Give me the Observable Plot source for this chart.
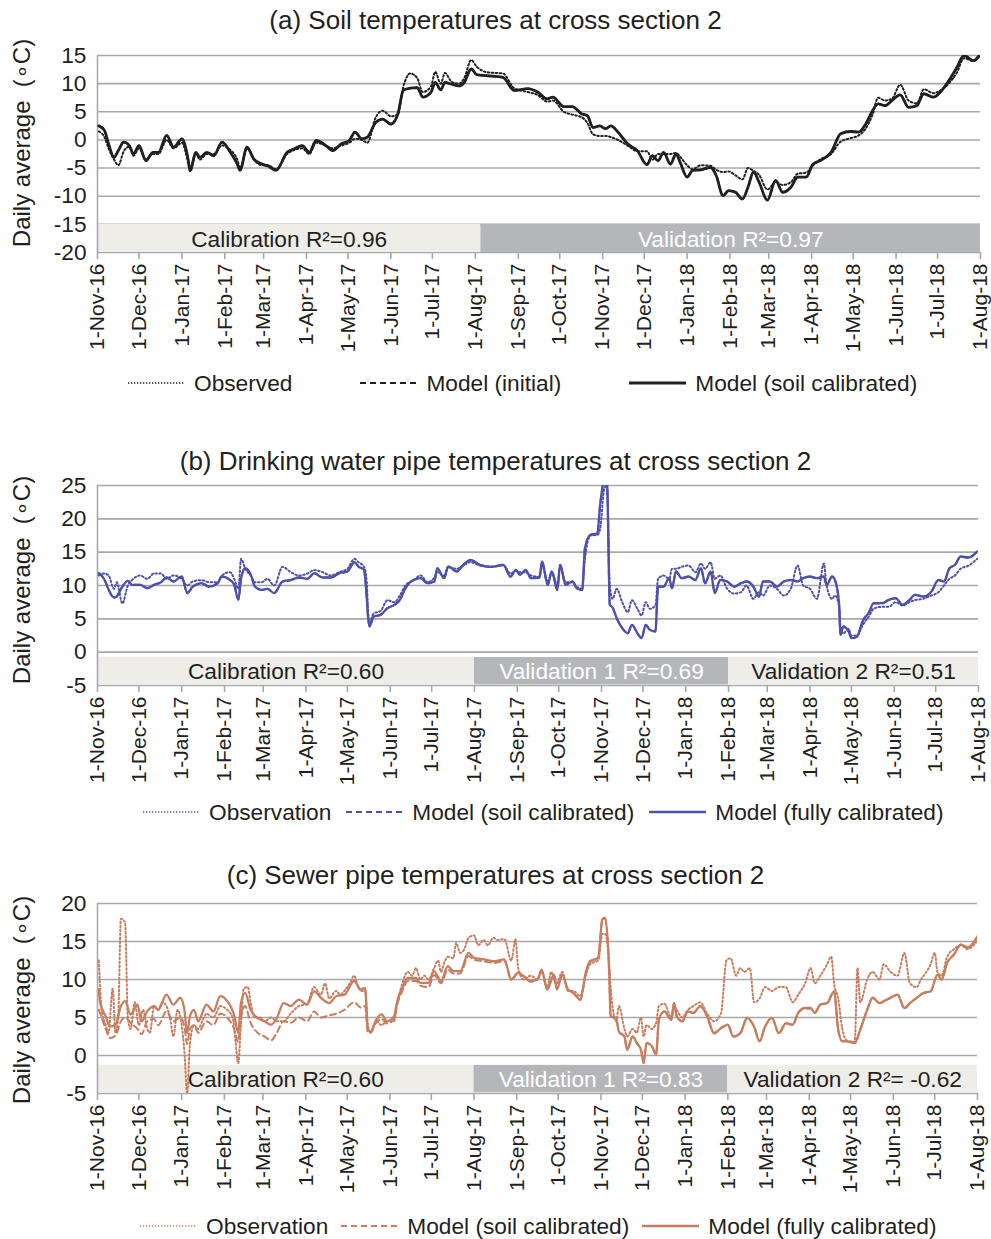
<!DOCTYPE html>
<html><head><meta charset="utf-8">
<script src="https://cdn.jsdelivr.net/npm/d3@7"></script>
<script src="https://cdn.jsdelivr.net/npm/@observablehq/plot@0.6"></script>
<style>
body{margin:0;background:#fff;font-family:"Liberation Sans",Arial,sans-serif;color:#231f20;}
#root{position:relative;width:991px;height:1239px;overflow:hidden;}
.title{position:absolute;left:0;width:991px;text-align:center;font-size:26px;line-height:30px;}
.ylab{position:absolute;width:300px;height:30px;line-height:30px;text-align:center;font-size:24px;white-space:pre;transform:rotate(-90deg);}
.legend{position:absolute;display:flex;align-items:center;font-size:22.7px;white-space:pre;height:30px;}
.legend .item{display:flex;align-items:center;}
.legend svg{margin-right:9px;}
.panel{position:absolute;left:0;}
</style></head><body><div id="root"></div>
<script>
// ---------- shared axis data ----------
const monthTicks = ["2016-11-01","2016-12-01","2017-01-01","2017-02-01","2017-03-01","2017-04-01","2017-05-01","2017-06-01","2017-07-01","2017-08-01","2017-09-01","2017-10-01","2017-11-01","2017-12-01","2018-01-01","2018-02-01","2018-03-01","2018-04-01","2018-05-01","2018-06-01","2018-07-01","2018-08-01"];
const startDate = "2016-11-01";
const endDate = "2018-08-01";

// ---------- panel (a): soil temperatures, [day since 1-Nov-16, °C] ----------
const aTitle = "(a) Soil temperatures at cross section 2";
const aYTicks = [-20,-15,-10,-5,0,5,10,15];
const aObserved = [[1,1.5],[5,0.5],[8,-1.5],[12,-3.5],[15,-4.5],[19,-2.0],[23,-1.2],[26,-2.8],[30,-1.5],[35,-3.5],[40,-2.5],[44,-2.5],[50,0.0],[55,-1.5],[61,-0.5],[65,-3.5],[67,-5.6],[71,-2.5],[74,-3.5],[79,-2.5],[84,-2.5],[90,-1.0],[96,-1.8],[101,-3.5],[103,-5.0],[108,-1.5],[113,-3.5],[119,-4.5],[123,-4.5],[129,-5.2],[137,-2.5],[142,-1.8],[148,-1.5],[153,-2.5],[158,-0.5],[165,-1.0],[170,-1.5],[176,-1.0],[182,-0.5],[186,0.2],[191,0.0],[195,-0.5],[201,4.0],[206,5.2],[212,4.2],[217,4.5],[221,9.5],[226,11.8],[231,11.0],[235,8.5],[241,9.5],[244,12.1],[248,10.0],[251,11.9],[256,10.3],[261,10.0],[265,11.0],[270,14.2],[274,13.0],[282,12.0],[293,11.8],[301,9.2],[311,8.5],[318,8.0],[325,6.8],[329,7.0],[337,5.0],[343,4.5],[350,4.0],[354,3.0],[358,1.0],[363,0.7],[367,0.7],[371,0.5],[376,0.0],[383,-1.0],[390,-2.0],[397,-2.0],[401,-3.5],[405,-2.5],[409,-2.5],[414,-2.5],[418,-2.3],[421,-3.0],[426,-4.5],[430,-5.2],[436,-4.5],[443,-4.6],[447,-5.3],[452,-5.7],[456,-5.6],[461,-6.3],[466,-7.0],[470,-5.0],[474,-5.5],[478,-6.2],[484,-8.8],[490,-7.5],[495,-8.0],[501,-7.5],[506,-6.0],[512,-5.8],[517,-4.5],[522,-3.5],[530,-2.5],[537,-0.3],[544,0.3],[550,0.8],[555,2.0],[560,4.5],[564,7.5],[569,7.0],[574,7.3],[580,9.8],[586,7.0],[592,6.5],[597,9.0],[604,8.3],[609,8.8],[615,10.0],[621,12.0],[626,14.5],[633,14.0],[637,14.8]];
const aModelInitial = [[1,2.5],[5,1.7],[8,-0.7],[12,-3.1],[15,-1.9],[19,-0.4],[23,-1.0],[26,-2.5],[30,-1.0],[35,-3.7],[40,-2.2],[44,-2.2],[50,0.8],[55,-1.3],[61,0.2],[65,-2.8],[67,-5.4],[71,-2.2],[74,-3.1],[79,-2.2],[84,-2.8],[90,-0.4],[96,-2.2],[101,-4.3],[103,-5.4],[108,-1.3],[113,-3.4],[119,-4.3],[123,-4.6],[129,-5.4],[137,-2.2],[142,-1.6],[148,-1.0],[153,-2.2],[158,-0.1],[165,-1.0],[170,-1.9],[176,-0.7],[182,-0.1],[186,1.4],[191,0.2],[195,0.5],[201,3.1],[206,3.7],[212,2.8],[217,4.6],[221,8.8],[226,9.2],[231,9.3],[235,7.6],[241,8.5],[244,10.2],[248,8.9],[251,10.2],[256,9.9],[261,9.6],[265,10.2],[270,12.6],[274,11.6],[282,11.4],[293,11.1],[301,8.8],[311,9.1],[318,8.5],[325,7.3],[329,7.6],[337,5.9],[343,5.9],[350,4.6],[354,4.3],[358,2.2],[363,2.5],[367,2.0],[371,2.5],[376,1.4],[383,-0.7],[390,-1.9],[397,-4.4],[401,-2.8],[405,-3.7],[409,-2.2],[414,-4.3],[418,-2.5],[421,-4.0],[426,-6.6],[430,-5.4],[436,-5.3],[443,-4.9],[447,-6.3],[452,-9.9],[456,-9.0],[461,-9.3],[466,-10.5],[470,-8.4],[474,-5.7],[478,-7.5],[484,-10.7],[490,-7.2],[495,-9.3],[501,-8.4],[506,-6.6],[512,-6.6],[517,-4.3],[522,-3.7],[530,-2.2],[537,1.1],[544,1.5],[550,1.4],[555,2.8],[560,5.2],[564,6.4],[569,6.1],[574,7.0],[580,8.0],[586,5.8],[592,6.1],[597,8.2],[604,7.6],[609,8.5],[615,10.5],[621,12.9],[626,15.0],[633,14.1],[637,15.0]];
const aModelSoil = [[1,2.5],[5,1.7],[8,-0.7],[12,-3.1],[15,-1.9],[19,-0.4],[23,-1.0],[26,-2.5],[30,-1.0],[35,-3.7],[40,-2.2],[44,-2.2],[50,0.8],[55,-1.3],[61,0.2],[65,-2.8],[67,-5.4],[71,-2.2],[74,-3.1],[79,-2.2],[84,-2.8],[90,-0.4],[96,-2.2],[101,-4.3],[103,-5.4],[108,-1.3],[113,-3.4],[119,-4.3],[123,-4.6],[129,-5.4],[137,-2.2],[142,-1.6],[148,-1.0],[153,-2.2],[158,-0.1],[165,-1.0],[170,-1.9],[176,-0.7],[182,-0.1],[186,1.4],[191,0.2],[195,0.5],[201,3.1],[206,3.7],[212,2.8],[217,4.6],[221,8.8],[226,9.2],[231,9.3],[235,7.6],[241,8.5],[244,10.2],[248,8.9],[251,10.2],[256,9.9],[261,9.6],[265,10.2],[270,12.6],[274,11.6],[282,11.4],[293,11.1],[301,8.8],[311,9.1],[318,8.5],[325,7.3],[329,7.6],[337,5.9],[343,5.9],[350,4.6],[354,4.3],[358,2.2],[363,2.5],[367,2.0],[371,2.5],[376,1.4],[383,-0.7],[390,-1.9],[397,-4.4],[401,-2.8],[405,-3.7],[409,-2.2],[414,-4.3],[418,-2.5],[421,-4.0],[426,-6.6],[430,-5.4],[436,-5.3],[443,-4.9],[447,-6.3],[452,-9.9],[456,-9.0],[461,-9.3],[466,-10.5],[470,-8.4],[474,-5.7],[478,-7.5],[484,-10.7],[490,-7.2],[495,-9.3],[501,-8.4],[506,-6.6],[512,-6.6],[517,-4.3],[522,-3.7],[530,-2.2],[537,1.1],[544,1.5],[550,1.4],[555,2.8],[560,5.2],[564,6.4],[569,6.1],[574,7.0],[580,8.0],[586,5.8],[592,6.1],[597,8.2],[604,7.6],[609,8.5],[615,10.5],[621,12.9],[626,15.0],[633,14.1],[637,15.0]];
const aBandLabels = ["Calibration R²=0.96","Validation R²=0.97"];
const aBandDates = ["2016-11-01","2017-08-05","2018-08-01"];
const aLegendLabels = ["Observed","Model (initial)","Model (soil calibrated)"];

// ---------- panel (b): drinking water pipe ----------
const bTitle = "(b) Drinking water pipe temperatures at cross section 2";
const bYTicks = [-5,0,5,10,15,20,25];
const bObservation = [[1,11.5],[5,11.8],[8,11.5],[12,9.5],[14,10.5],[18,7.3],[22,10.0],[25,10.8],[31,11.5],[36,11.0],[41,11.8],[46,11.8],[50,11.0],[55,11.5],[61,11.0],[65,10.0],[69,10.6],[75,10.8],[81,10.5],[87,10.5],[90,11.5],[96,12.0],[99,11.0],[102,9.5],[104,14.0],[107,12.5],[111,11.5],[114,10.5],[119,10.5],[123,11.0],[128,10.0],[134,12.8],[140,12.0],[146,11.5],[152,11.8],[157,12.3],[163,12.0],[169,11.5],[175,12.0],[181,12.5],[186,14.0],[189,13.5],[193,12.8],[195,10.5],[196,6.0],[197,4.5],[200,5.8],[205,6.2],[210,7.8],[215,7.5],[219,8.5],[223,10.0],[229,10.8],[234,11.5],[239,10.5],[244,11.2],[246,12.0],[251,11.5],[254,12.8],[260,12.5],[265,13.0],[270,13.5],[277,13.0],[285,12.8],[294,13.0],[299,11.8],[303,12.2],[306,12.0],[310,12.0],[314,11.5],[320,11.3],[322,13.0],[326,10.5],[329,12.0],[333,10.0],[335,13.0],[339,10.5],[344,10.5],[347,9.8],[351,9.5],[353,14.0],[357,17.5],[362,17.6],[364,18.5],[367,24.5],[369,25.1],[371,10.0],[373,8.0],[376,9.5],[380,7.5],[384,6.0],[387,7.8],[391,6.5],[394,5.5],[397,7.5],[400,6.5],[404,7.0],[406,11.0],[410,11.5],[414,11.0],[416,12.5],[419,12.5],[423,12.8],[428,13.0],[433,12.0],[437,13.3],[440,12.5],[444,13.5],[447,11.0],[451,11.5],[456,9.5],[461,8.8],[466,9.0],[470,10.0],[475,8.0],[479,9.0],[482,8.5],[487,10.0],[492,9.5],[497,8.5],[502,9.5],[507,13.0],[511,10.0],[516,9.5],[521,8.0],[526,13.3],[528,10.0],[532,8.0],[534,8.5],[537,7.0],[538,4.0],[540,2.8],[544,3.5],[546,2.5],[550,2.5],[554,4.0],[559,5.5],[562,6.5],[568,6.8],[573,6.8],[578,7.5],[583,7.0],[588,7.5],[592,7.8],[598,8.0],[604,8.5],[609,9.0],[613,10.0],[617,11.0],[621,11.5],[625,12.5],[631,13.0],[637,14.0]];
const bModelSoil = [[1,11.8],[5,10.9],[8,9.4],[12,8.2],[14,8.4],[18,9.8],[22,10.7],[25,10.1],[31,10.1],[36,9.6],[41,10.1],[46,10.5],[50,11.2],[55,10.6],[61,11.3],[65,8.9],[69,9.8],[75,10.3],[81,9.8],[87,10.3],[90,11.3],[96,10.8],[99,10.1],[102,7.9],[104,11.1],[107,12.6],[111,11.6],[114,9.8],[119,9.3],[123,9.5],[128,8.9],[134,10.6],[140,10.8],[146,11.2],[152,11.0],[157,11.8],[163,11.2],[169,11.2],[175,11.8],[181,12.1],[186,13.5],[189,12.8],[193,12.3],[195,8.1],[196,5.1],[197,3.9],[200,5.3],[205,5.6],[210,6.6],[215,7.1],[219,7.8],[223,9.6],[229,10.8],[234,11.1],[239,10.3],[244,10.6],[246,12.6],[251,11.1],[254,12.8],[260,12.1],[265,13.1],[270,13.8],[277,13.1],[285,12.8],[294,13.1],[299,11.3],[303,12.3],[306,11.6],[310,12.3],[314,11.1],[320,11.2],[322,13.6],[326,10.1],[329,12.1],[333,9.3],[335,13.1],[339,10.1],[344,10.6],[347,9.6],[351,9.3],[353,15.6],[357,17.6],[362,17.8],[364,22.1],[367,25.6],[369,25.1],[371,7.1],[373,6.7],[376,5.1],[380,3.6],[384,2.8],[387,4.1],[391,2.8],[394,2.1],[397,4.1],[400,3.3],[404,3.1],[406,9.8],[410,9.8],[414,11.1],[416,9.6],[419,12.1],[423,11.1],[428,11.3],[433,10.8],[437,12.6],[440,10.3],[444,12.1],[447,8.9],[451,10.8],[456,10.6],[461,9.8],[466,10.3],[470,10.6],[475,9.8],[479,8.3],[482,10.6],[487,10.6],[492,9.8],[497,10.6],[502,10.8],[507,10.6],[511,11.1],[516,11.3],[521,11.1],[526,11.3],[528,10.1],[532,11.3],[534,10.8],[537,7.3],[538,2.6],[540,3.8],[544,3.1],[546,2.1],[550,2.3],[554,4.6],[559,6.1],[562,7.3],[568,7.3],[573,7.8],[578,8.1],[583,7.1],[588,7.8],[592,8.6],[598,8.3],[604,9.1],[609,10.8],[613,10.6],[617,12.6],[621,13.1],[625,14.3],[631,14.2],[637,15.1]];
const bModelFull = [[1,11.85],[5,10.9],[8,9.4],[12,8.2],[14,8.35],[18,9.85],[22,10.7],[25,10.1],[31,10.1],[36,9.6],[41,10.1],[46,10.5],[50,11.2],[55,10.6],[61,11.35],[65,8.85],[69,9.85],[75,10.35],[81,9.85],[87,10.35],[90,11.35],[96,10.85],[99,10.1],[102,7.85],[104,11.1],[107,12.6],[111,11.6],[114,9.85],[119,9.35],[123,9.5],[128,8.85],[134,10.6],[140,10.85],[146,11.2],[152,11.0],[157,11.85],[163,11.2],[169,11.2],[175,11.85],[181,12.1],[186,13.5],[189,12.85],[193,12.35],[195,8.1],[196,5.1],[197,3.85],[200,5.35],[205,5.6],[210,6.6],[215,7.1],[219,7.85],[223,9.6],[229,10.85],[234,11.1],[239,10.35],[244,10.6],[246,12.6],[251,11.1],[254,12.85],[260,12.1],[265,13.1],[270,13.85],[277,13.1],[285,12.8],[294,13.1],[299,11.35],[303,12.35],[306,11.6],[310,12.35],[314,11.1],[320,11.2],[322,13.6],[326,10.1],[329,12.1],[333,9.35],[335,13.1],[339,10.1],[344,10.6],[347,9.6],[351,9.35],[353,15.6],[357,17.6],[362,17.85],[364,22.1],[367,25.6],[369,25.1],[371,7.1],[373,6.7],[376,5.1],[380,3.6],[384,2.85],[387,4.1],[391,2.85],[394,2.1],[397,4.1],[400,3.35],[404,3.1],[406,9.85],[410,9.85],[414,11.1],[416,9.6],[419,12.1],[423,11.1],[428,11.35],[433,10.85],[437,12.6],[440,10.35],[444,12.1],[447,8.85],[451,10.85],[456,10.6],[461,9.85],[466,10.35],[470,10.6],[475,9.85],[479,8.35],[482,10.6],[487,10.6],[492,9.85],[497,10.6],[502,10.85],[507,10.6],[511,11.1],[516,11.35],[521,11.1],[526,11.35],[528,10.1],[532,11.35],[534,10.85],[537,7.35],[538,2.6],[540,3.85],[544,3.1],[546,2.1],[550,2.35],[554,4.6],[559,6.1],[562,7.35],[568,7.35],[573,7.85],[578,8.1],[583,7.1],[588,7.85],[592,8.6],[598,8.35],[604,9.1],[609,10.85],[613,10.6],[617,12.6],[621,13.1],[625,14.35],[631,14.2],[637,15.1]];
const bBandLabels = ["Calibration R²=0.60","Validation 1 R²=0.69","Validation 2 R²=0.51"];
const bBandDates = ["2016-11-01","2017-08-01","2018-02-01","2018-08-01"];
const bLegendLabels = ["Observation","Model (soil calibrated)","Model (fully calibrated)"];

// ---------- panel (c): sewer pipe ----------
const cTitle = "(c) Sewer pipe temperatures at cross section 2";
const cYTicks = [-5,0,5,10,15,20];
const cObservation = [[1,12.5],[3,6.0],[6,4.0],[8,3.0],[11,8.8],[13,3.0],[15,5.0],[17,18.0],[20,17.5],[22,5.0],[24,3.5],[27,7.0],[30,4.0],[33,6.0],[36,3.5],[38,3.0],[41,6.5],[44,6.0],[47,7.0],[50,6.5],[53,4.5],[55,2.5],[58,6.0],[61,4.0],[63,0.5],[65,-5.0],[67,1.5],[70,4.0],[73,3.5],[76,4.5],[79,5.5],[84,5.0],[89,6.5],[94,6.0],[98,5.0],[100,2.0],[102,-1.0],[104,4.0],[106,8.8],[109,9.0],[111,7.0],[114,5.0],[118,5.0],[121,4.5],[126,5.0],[130,4.5],[135,4.5],[140,5.5],[146,6.5],[152,6.8],[157,9.0],[162,8.0],[165,9.5],[168,7.5],[173,8.5],[176,8.0],[179,8.5],[183,9.5],[186,10.5],[189,9.0],[191,8.5],[194,8.5],[196,4.0],[198,3.0],[202,4.5],[206,4.0],[210,4.5],[215,4.5],[217,6.5],[221,9.5],[225,11.0],[228,10.5],[231,11.5],[234,10.0],[237,10.5],[240,10.0],[244,11.5],[247,12.5],[249,11.0],[252,12.5],[254,13.0],[258,12.8],[260,14.8],[263,13.5],[266,14.0],[269,15.5],[273,15.8],[276,14.5],[280,15.2],[283,14.5],[287,15.5],[290,15.2],[295,15.3],[300,12.5],[303,15.3],[305,11.5],[309,10.0],[314,10.5],[319,10.0],[322,11.0],[326,9.0],[329,11.0],[331,10.0],[333,9.5],[337,11.0],[341,8.5],[345,8.5],[350,7.8],[354,10.5],[357,12.0],[363,12.5],[366,16.0],[368,16.0],[371,12.0],[372,9.0],[376,4.5],[378,6.5],[382,3.5],[384,2.5],[388,3.5],[391,3.0],[394,5.0],[396,2.5],[398,4.0],[402,3.5],[405,4.3],[407,6.5],[411,6.8],[416,5.0],[418,6.5],[420,6.0],[424,5.0],[428,6.0],[432,6.5],[437,7.0],[442,5.5],[447,4.5],[452,5.5],[456,12.5],[459,12.8],[463,10.5],[466,11.5],[469,11.0],[473,11.5],[476,7.0],[480,7.5],[484,9.0],[489,8.5],[494,9.0],[499,9.0],[504,7.0],[508,8.0],[513,9.5],[517,11.5],[520,9.5],[524,10.5],[529,12.0],[532,13.0],[534,9.5],[537,7.5],[540,3.5],[543,2.0],[549,1.8],[551,11.5],[553,7.0],[558,10.0],[562,11.0],[567,10.0],[570,12.0],[575,11.0],[580,10.5],[585,13.5],[589,9.5],[594,9.0],[597,10.0],[599,10.5],[604,12.0],[607,13.5],[609,11.0],[612,10.5],[616,13.0],[621,14.0],[626,14.5],[631,14.0],[634,14.3],[638,15.2]];
const cModelSoil = [[1,6.0],[2,5.5],[6,3.5],[9,2.3],[13,2.6],[17,4.5],[20,5.0],[24,4.3],[29,3.5],[32,2.8],[36,4.5],[41,4.8],[44,4.0],[50,5.8],[55,4.5],[60,5.0],[63,3.8],[65,1.5],[67,3.5],[70,4.0],[73,3.0],[79,4.5],[84,4.0],[89,5.5],[94,5.0],[99,3.5],[102,1.8],[104,5.0],[107,6.5],[111,4.3],[116,3.0],[121,2.5],[126,2.0],[130,3.0],[135,4.5],[140,4.3],[146,5.0],[152,4.5],[157,5.8],[162,5.0],[168,5.3],[173,5.5],[179,6.0],[186,7.0],[191,6.3],[194,6.5],[196,3.0],[198,3.0],[202,4.3],[206,4.8],[210,4.2],[215,4.8],[217,6.5],[221,8.5],[225,9.8],[231,9.8],[234,9.2],[240,9.0],[244,10.6],[249,9.5],[254,11.3],[258,10.8],[263,10.8],[269,13.1],[273,12.6],[280,12.4],[287,12.2],[295,12.4],[300,10.0],[305,10.8],[309,10.4],[314,9.7],[319,10.0],[322,11.2],[326,8.7],[331,10.6],[333,8.7],[337,10.6],[341,8.7],[345,8.2],[350,7.3],[354,10.8],[357,12.3],[363,12.8],[366,17.8],[368,18.0],[371,10.8],[372,5.1],[376,4.9],[378,3.1],[382,2.5],[384,0.8],[388,2.5],[391,1.6],[394,0.8],[396,-1.0],[398,1.6],[402,1.2],[405,0.1],[407,4.7],[411,5.8],[416,4.7],[418,6.9],[420,5.1],[424,4.5],[428,5.8],[432,5.6],[437,6.5],[442,5.1],[447,2.9],[452,3.6],[457,4.0],[461,2.5],[466,2.9],[471,4.9],[476,3.8],[480,1.9],[484,3.8],[489,4.9],[494,2.9],[499,4.2],[504,4.0],[508,5.6],[513,6.2],[517,6.2],[520,5.6],[524,6.7],[529,6.9],[534,8.4],[537,3.4],[540,1.9],[543,1.9],[549,1.6],[553,3.4],[558,6.0],[562,7.6],[567,6.9],[570,7.1],[575,7.6],[580,8.0],[585,6.2],[589,6.9],[594,7.6],[599,8.2],[604,8.4],[609,10.6],[612,10.0],[616,12.2],[621,13.3],[626,14.6],[631,14.2],[634,14.6],[638,15.7]];
const cModelFull = [[1,8.7],[2,6.9],[6,5.15],[9,3.8],[13,4.05],[17,6.5],[20,7.15],[24,5.4],[29,6.7],[32,4.5],[36,5.8],[41,6.5],[44,6.0],[50,8.0],[55,6.7],[60,7.6],[63,6.0],[65,2.95],[67,5.15],[70,6.0],[73,4.5],[79,6.7],[84,5.8],[89,7.8],[94,7.15],[99,5.4],[102,2.95],[104,6.9],[107,8.25],[111,6.0],[116,4.95],[121,4.5],[126,4.05],[130,4.95],[135,6.9],[140,6.5],[146,7.35],[152,6.7],[157,8.45],[162,7.6],[168,6.9],[173,7.8],[179,8.0],[186,9.8],[191,8.7],[194,8.9],[196,3.4],[198,3.15],[202,4.7],[206,5.4],[210,4.5],[215,5.15],[217,6.9],[221,8.9],[225,10.2],[231,10.2],[234,9.55],[240,9.55],[244,11.1],[249,9.8],[254,11.75],[258,11.1],[263,11.1],[269,13.5],[273,12.85],[280,12.65],[287,12.4],[295,12.65],[300,10.0],[305,10.9],[309,10.45],[314,9.8],[319,10.0],[322,11.3],[326,8.7],[331,10.65],[333,8.7],[337,10.65],[341,8.7],[345,8.25],[350,7.35],[354,10.9],[357,12.4],[363,12.85],[366,17.9],[368,18.15],[371,10.9],[372,5.15],[376,4.95],[378,3.15],[382,2.5],[384,0.75],[388,2.5],[391,1.65],[394,0.75],[396,-1.0],[398,1.65],[402,1.2],[405,0.1],[407,4.7],[411,5.8],[416,4.7],[418,6.9],[420,5.15],[424,4.5],[428,5.8],[432,5.6],[437,6.5],[442,5.15],[447,2.95],[452,3.6],[457,4.05],[461,2.5],[466,2.95],[471,4.95],[476,3.8],[480,1.85],[484,3.8],[489,4.95],[494,2.95],[499,4.25],[504,4.05],[508,5.6],[513,6.25],[517,6.25],[520,5.6],[524,6.7],[529,6.9],[534,8.45],[537,3.4],[540,1.85],[543,1.85],[549,1.65],[553,3.4],[558,6.0],[562,7.6],[567,6.9],[570,7.15],[575,7.6],[580,8.0],[585,6.25],[589,6.9],[594,7.6],[599,8.25],[604,8.45],[609,10.65],[612,10.0],[616,12.2],[621,13.3],[626,14.6],[631,14.2],[634,14.6],[638,15.7]];
const cBandLabels = ["Calibration R²=0.60","Validation 1 R²=0.83","Validation 2 R²= -0.62"];
const cBandDates = ["2016-11-01","2017-08-01","2018-02-01","2018-08-01"];
const cLegendLabels = ["Observation","Model (soil calibrated)","Model (fully calibrated)"];

// ---------- rendering ----------
const root = document.getElementById("root");
const parse = d3.utcParse("%Y-%m-%d");
const t0 = parse(startDate), t1 = parse(endDate);
const dayToDate = d => d3.utcDay.offset(t0, d);
const fmt = d3.utcFormat("%-d-%b-%y");
const GRID = "#a6a8ab";
const CAL = "#efede8", VAL = "#b5b6b9";
const FONT = 22.7;

function addDiv(cls, top, left, text) {
  const el = document.createElement("div");
  el.className = cls;
  el.style.top = top + "px";
  if (left != null) el.style.left = left + "px";
  if (text != null) el.textContent = text;
  root.appendChild(el);
  return el;
}

function drawPanel(cfg) {
  const styles = {
    dotted: {dash: "1.6,2.4", width: 2},
    dashed: {dash: "6,4", width: 2},
    solid: {dash: null, width: cfg.solidWidth}
  };
  addDiv("title", cfg.titleY - 15, 0, cfg.title);
  addDiv("ylab", cfg.ylabY - 15, 22 - 150, "Daily average  (\u2218C)");

  const bandMarks = [];
  cfg.bandLabels.forEach((lab, i) => {
    const x1 = parse(cfg.bandDates[i]), x2 = parse(cfg.bandDates[i + 1]);
    bandMarks.push(Plot.rectY([0], {x1: () => x1, x2: () => x2, y1: cfg.bandY[0], y2: cfg.bandY[1], fill: cfg.bandFills[i]}));
    bandMarks.push(Plot.text([lab], {x: () => new Date((+x1 + +x2) / 2), y: (cfg.bandY[0] + cfg.bandY[1]) / 2, text: d => d, fill: cfg.bandText[i], fontSize: FONT, dy: 1}));
  });

  const lineMarks = cfg.series.map(s => Plot.line(s.data, {
    x: d => dayToDate(d[0]), y: d => d[1],
    stroke: cfg.color, strokeWidth: styles[s.style].width,
    strokeDasharray: styles[s.style].dash, curve: "monotone-x", clip: true
  }));

  const svg = Plot.plot({
    width: 991,
    height: 15 + cfg.innerH + 110,
    marginTop: 15, marginBottom: 110, marginLeft: 97, marginRight: 991 - cfg.rightX,
    style: {fontFamily: "'Liberation Sans', Arial, sans-serif", fontSize: FONT + "px", color: "#231f20", background: "transparent", overflow: "visible"},
    x: {type: "utc", domain: [t0, t1]},
    y: {domain: [cfg.yTicks[0], cfg.yTicks[cfg.yTicks.length - 1]]},
    marks: [
      Plot.gridY(cfg.yTicks, {stroke: GRID, strokeOpacity: 1, strokeWidth: 1.6}),
      ...bandMarks,
      Plot.ruleX([t0], {stroke: GRID, strokeWidth: 1.6}),
      Plot.axisY(cfg.yTicks, {tickSize: 0, tickPadding: 11, fontSize: FONT, tickFormat: d => String(d), label: null}),
      Plot.axisX(monthTicks.map(parse), {tickFormat: fmt, tickRotate: -90, tickSize: 7, tickPadding: 4, stroke: GRID, strokeWidth: 1.6, fontSize: 21, label: null}),
      ...lineMarks
    ]
  });
  svg.classList.add("panel");
  svg.style.top = cfg.svgTop + "px";
  root.appendChild(svg);

  const leg = addDiv("legend", cfg.legendY - 15, cfg.legendX);
  cfg.legendOrder.forEach((idx, i) => {
    const s = cfg.series[idx];
    const item = document.createElement("div");
    item.className = "item";
    if (i > 0) item.style.marginLeft = cfg.legendGap + "px";
    const st = styles[s.style];
    item.innerHTML = `<svg width="57" height="10"><line x1="0" x2="57" y1="5" y2="5" stroke="${cfg.color}" stroke-width="${s.style === "dotted" ? 1.6 : st.width}" ${st.dash ? `stroke-dasharray="${s.style === "dotted" ? "1.3,1.7" : st.dash}"` : ""}/></svg><span>${s.label}</span>`;
    leg.appendChild(item);
  });
}

drawPanel({
  title: aTitle, titleY: 20, ylabY: 143, svgTop: 40, innerH: 197, rightX: 980,
  yTicks: aYTicks, bandY: [-15, -20], bandLabels: aBandLabels, bandDates: aBandDates,
  bandFills: [CAL, VAL], bandText: ["#231f20", "#ffffff"], color: "#231f20", solidWidth: 2.8,
  series: [
    {data: aModelInitial, style: "dashed", label: aLegendLabels[1]},
    {data: aObserved, style: "dotted", label: aLegendLabels[0]},
    {data: aModelSoil, style: "solid", label: aLegendLabels[2]}
  ],
  legendOrder: [1, 0, 2], legendY: 383, legendX: 128, legendGap: 68
});
drawPanel({
  title: bTitle, titleY: 461, ylabY: 580, svgTop: 470, innerH: 200, rightX: 978,
  yTicks: bYTicks, bandY: [-0.8, -4.9], bandLabels: bBandLabels, bandDates: bBandDates,
  bandFills: [CAL, VAL, CAL], bandText: ["#231f20", "#ffffff", "#231f20"], color: "#5050aa", solidWidth: 2.3,
  series: [
    {data: bObservation, style: "dotted", label: bLegendLabels[0]},
    {data: bModelSoil, style: "dashed", label: bLegendLabels[1]},
    {data: bModelFull, style: "solid", label: bLegendLabels[2]}
  ],
  legendOrder: [0, 1, 2], legendY: 812, legendX: 143, legendGap: 15
});
drawPanel({
  title: cTitle, titleY: 875, ylabY: 1000, svgTop: 888, innerH: 190, rightX: 977,
  yTicks: cYTicks, bandY: [-1.3, -4.9], bandLabels: cBandLabels, bandDates: cBandDates,
  bandFills: [CAL, VAL, CAL], bandText: ["#231f20", "#ffffff", "#231f20"], color: "#c87d5f", solidWidth: 2.3,
  series: [
    {data: cObservation, style: "dotted", label: cLegendLabels[0]},
    {data: cModelSoil, style: "dashed", label: cLegendLabels[1]},
    {data: cModelFull, style: "solid", label: cLegendLabels[2]}
  ],
  legendOrder: [0, 1, 2], legendY: 1226, legendX: 140, legendGap: 13
});
</script></body></html>
